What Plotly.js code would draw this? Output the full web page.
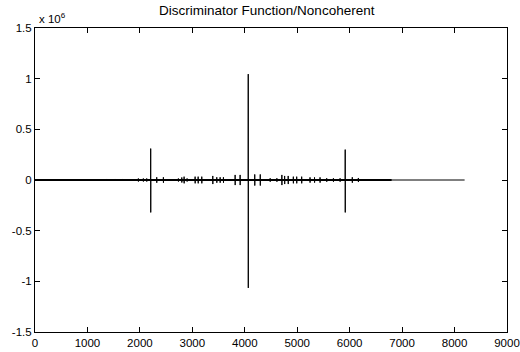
<!DOCTYPE html>
<html>
<head>
<meta charset="utf-8">
<script src="https://cdn.plot.ly/plotly-3.0.1.min.js"></script>
<style>html,body{margin:0;padding:0;background:#fff;}#chart{width:520px;height:352px;}</style>
</head>
<body>
<div id="chart"></div>
<script>
// Spike positions (sample index) and amplitudes (x 10^6)
const spikeX    = [1368, 1526, 1672, 1971, 2066, 2130, 2206, 2321, 2448, 2734, 2799, 2843, 2900, 3053, 3111, 3180, 3390, 3466, 3530, 3593, 3816, 3911, 4066, 4190, 4295, 4484, 4612, 4707, 4760, 4828, 4926, 4990, 5085, 5244, 5330, 5435, 5562, 5690, 5817, 5915, 6050, 6166, 6455, 6583, 6774];
const spikeUp   = [0.01, 0.01, 0.01, 0.015, 0.015, 0.015, 0.31, 0.027, 0.027, 0.015, 0.025, 0.033, 0.015, 0.033, 0.033, 0.033, 0.04, 0.027, 0.027, 0.027, 0.05, 0.05, 1.045, 0.055, 0.055, 0.017, 0.017, 0.05, 0.04, 0.04, 0.033, 0.033, 0.033, 0.026, 0.026, 0.026, 0.017, 0.017, 0.017, 0.30, 0.027, 0.02, 0.008, 0.008, 0.008];
const spikeDown = [0.01, 0.01, 0.01, 0.015, 0.015, 0.015, 0.32, 0.027, 0.027, 0.015, 0.025, 0.033, 0.015, 0.033, 0.033, 0.033, 0.04, 0.027, 0.027, 0.027, 0.05, 0.05, 1.065, 0.055, 0.055, 0.017, 0.017, 0.05, 0.04, 0.04, 0.033, 0.033, 0.033, 0.026, 0.026, 0.026, 0.017, 0.017, 0.017, 0.32, 0.027, 0.02, 0.008, 0.008, 0.008];
const seriesStart = 0;
const seriesEnd = 8192;
const baselineEnd = 6800;
const yTickVals = [-1.5, -1, -0.5, 0, 0.5, 1, 1.5];
const yTickText = ['-1.5', '-1', '-0.5', '0', '0.5', '1', '1.5'];
const xTickVals = [0, 1000, 2000, 3000, 4000, 5000, 6000, 7000, 8000, 9000];

const xs = [seriesStart], ys = [0];
for (let i = 0; i < spikeX.length; i++) {
  const p = spikeX[i];
  xs.push(p - 1, p, p + 1, p + 2);
  ys.push(0, spikeUp[i], -spikeDown[i], 0);
}
xs.push(seriesEnd); ys.push(0);

const font = {family: 'Liberation Sans, Arial, sans-serif', size: 11.5, color: '#000'};
const axisCommon = {
  showgrid: false, zeroline: false, showline: true, linecolor: '#000', linewidth: 1,
  mirror: 'allticks', ticks: 'inside', ticklen: 5, tickwidth: 1, tickcolor: '#000',
  tickfont: font
};

Plotly.newPlot('chart', [
  {x: [seriesStart, baselineEnd], y: [0, 0], mode: 'lines', line: {color: '#000', width: 2.2}, hoverinfo: 'skip'},
  {x: xs, y: ys, mode: 'lines', line: {color: '#000', width: 1}}
], {
  width: 520, height: 352,
  margin: {l: 35, r: 13, t: 28, b: 20},
  paper_bgcolor: '#fff', plot_bgcolor: '#fff',
  showlegend: false,
  font: font,
  title: {text: 'Discriminator Function/Noncoherent', font: {family: font.family, size: 13.5, color: '#000'}, x: 0.513, xanchor: 'center', y: 0.985, yanchor: 'top'},
  xaxis: Object.assign({}, axisCommon, {range: [0, 9000], tickvals: xTickVals, ticktext: xTickVals.map(String)}),
  yaxis: Object.assign({}, axisCommon, {range: [-1.5, 1.5], tickvals: yTickVals, ticktext: yTickText}),
  annotations: [{
    text: 'x 10<sup>6</sup>', xref: 'paper', yref: 'paper', x: 0, y: 1, xanchor: 'left', yanchor: 'bottom',
    xshift: 2, yshift: 1, showarrow: false, font: font
  }]
}, {staticPlot: true});
</script>
</body>
</html>
